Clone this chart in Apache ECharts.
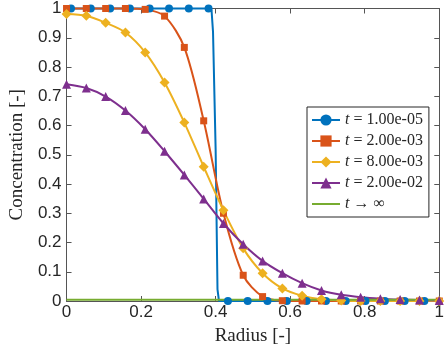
<!DOCTYPE html>
<html>
<head>
<meta charset="utf-8">
<script src="https://cdn.jsdelivr.net/npm/echarts@6/dist/echarts.min.js"></script>
<style>
  html, body { margin: 0; padding: 0; background: #fff; }
  #chart { width: 447px; height: 351px; }
</style>
</head>
<body>
<div id="chart"></div>
<script>
// radius positions of the markers (shared by the t = 2e-3, 8e-3, 2e-2 curves)
const radius = [0, 0.053, 0.105, 0.158, 0.211, 0.263, 0.316, 0.368, 0.421, 0.474,
  0.526, 0.579, 0.632, 0.684, 0.737, 0.789, 0.842, 0.895, 0.947, 1]

// t = 1.00e-05 : markers sit on a slightly shifted grid, plus the steep front
const blueMarkX = [0.012, 0.065, 0.117, 0.170, 0.223, 0.275, 0.328, 0.381, 0.433, 0.486,
  0.539, 0.591, 0.644, 0.696, 0.749, 0.802, 0.854, 0.907, 0.960]
const blueMarkY = [1, 1, 1, 1, 1, 1, 1, 1, 0, 0, 0, 0, 0, 0, 0, 0, 0, 0, 0]
const blueFrontX = [0.389, 0.393, 0.400, 0.405, 0.409]
const blueFrontY = [0.995, 0.92, 0.52, 0.04, 0]

const orangeY = [1, 1, 1, 1, 0.997, 0.974, 0.867, 0.616, 0.30, 0.088,
  0.015, 0.001, 0, 0, 0, 0, 0, 0, 0, 0]
const yellowY = [0.981, 0.975, 0.951, 0.918, 0.850, 0.747, 0.610, 0.459, 0.31, 0.18,
  0.095, 0.043, 0.018, 0.006, 0.002, 0, 0, 0, 0, 0]
const purpleY = [0.741, 0.728, 0.699, 0.651, 0.587, 0.512, 0.431, 0.349, 0.265, 0.194,
  0.137, 0.095, 0.061, 0.036, 0.021, 0.013, 0.008, 0.005, 0.003, 0.002]
const steadyX = [0, 1]
const steadyY = [0.004, 0.004]

const seriesNames = ['t = 1.00e-05', 't = 2.00e-03', 't = 8.00e-03', 't = 2.00e-02', 't \u2192 \u221e']
const colors = ['#0072BD', '#D95319', '#EDB120', '#7E2F8E', '#77AC30']

const xTickLabels = ['0', '0.2', '0.4', '0.6', '0.8', '1']
const yTickLabels = ['0', '0.1', '0.2', '0.3', '0.4', '0.5', '0.6', '0.7', '0.8', '0.9', '1']

const axisColor = '#555'
const textColor = '#262626'
const sansFont = '"Liberation Sans", Arial, sans-serif'
const serifFont = '"Liberation Serif", "DejaVu Serif", serif'

function zip(xs, ys) {
  return xs.map((x, i) => [x, ys[i]])
}

// blue curve: markers + front points without symbol, sorted by radius
const blueData = blueMarkX.map((x, i) => ({ value: [x, blueMarkY[i]] }))
  .concat(blueFrontX.map((x, i) => ({ value: [x, blueFrontY[i]], symbol: 'none' })))
  .sort((a, b) => a.value[0] - b.value[0])

function baseAxis(extra) {
  return Object.assign({
    type: 'value',
    min: 0,
    max: 1,
    axisLine: { show: true, onZero: false, lineStyle: { color: axisColor, width: 1 } },
    axisTick: { show: true, inside: true, length: 5, lineStyle: { color: axisColor } },
    splitLine: { show: false }
  }, extra)
}

function curve(idx, data, symbol, size) {
  return {
    name: seriesNames[idx],
    type: 'line',
    data: data,
    color: colors[idx],
    symbol: symbol,
    symbolSize: size,
    smooth: 0.3,
    clip: false,
    lineStyle: { width: 2 }
  }
}

const chart = echarts.init(document.getElementById('chart'))

chart.setOption({
  animation: false,
  backgroundColor: '#fff',
  grid: { left: 55, right: 7, top: 8, bottom: 46 },
  legend: {
    orient: 'vertical',
    left: 307,
    top: 107,
    padding: [5, 6, 5, 4],
    itemWidth: 28,
    itemHeight: 14,
    itemGap: 5,
    backgroundColor: '#fff',
    borderColor: '#262626',
    borderWidth: 1,
    borderRadius: 0,
    data: seriesNames.slice(0, 4).concat([{
      name: seriesNames[4],
      itemStyle: { opacity: 0 },
      lineStyle: { width: 2 }
    }]),
    formatter(name) {
      return '{it|t}' + name.slice(1)
    },
    textStyle: {
      fontFamily: serifFont,
      fontSize: 16,
      color: textColor,
      rich: {
        it: { fontFamily: serifFont, fontStyle: 'italic', fontSize: 16, color: textColor }
      }
    }
  },
  xAxis: [
    baseAxis({
      position: 'bottom',
      interval: 0.2,
      name: 'Radius [-]',
      nameLocation: 'middle',
      nameGap: 26,
      nameTextStyle: { fontFamily: serifFont, fontSize: 19, color: textColor },
      axisLabel: {
        margin: 3,
        fontFamily: sansFont,
        fontSize: 17,
        color: textColor,
        formatter: v => xTickLabels[Math.round(v / 0.2)]
      }
    }),
    baseAxis({ position: 'top', interval: 0.2, axisLabel: { show: false } })
  ],
  yAxis: [
    baseAxis({
      position: 'left',
      interval: 0.1,
      name: 'Concentration [-]',
      nameLocation: 'middle',
      nameGap: 37,
      nameTextStyle: { fontFamily: serifFont, fontSize: 19, color: textColor },
      axisLabel: {
        margin: 5,
        fontFamily: sansFont,
        fontSize: 17,
        color: textColor,
        formatter: v => yTickLabels[Math.round(v / 0.1)]
      }
    }),
    baseAxis({ position: 'right', interval: 0.1, axisLabel: { show: false } })
  ],
  series: [
    {
      name: seriesNames[0],
      type: 'line',
      data: blueData,
      color: colors[0],
      symbol: 'circle',
      symbolSize: 8,
      clip: false,
      lineStyle: { width: 2 }
    },
    curve(1, zip(radius, orangeY), 'rect', 7),
    curve(2, zip(radius, yellowY), 'diamond', 10),
    curve(3, zip(radius, purpleY), 'triangle', 9),
    {
      name: seriesNames[4],
      type: 'line',
      data: zip(steadyX, steadyY),
      color: colors[4],
      symbol: 'none',
      lineStyle: { width: 2 }
    }
  ]
})
</script>
</body>
</html>
